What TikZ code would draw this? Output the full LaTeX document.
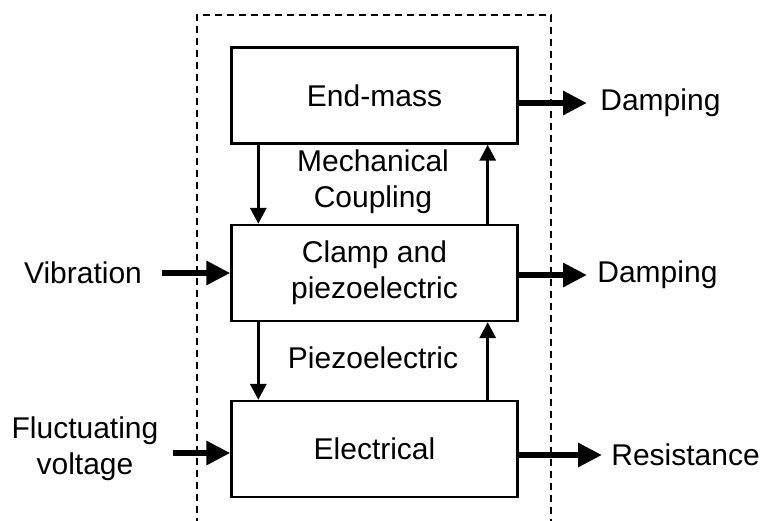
\documentclass[tikz,border=0pt]{standalone}
\usepackage{fontspec}
\setmainfont{Liberation Sans}
\usetikzlibrary{arrows.meta}
\begin{document}
\begin{tikzpicture}[x=0.5pt,y=-0.5pt,
  blk/.style={draw,line width=1.2pt,minimum width=143pt,minimum height=48pt,inner sep=0pt,align=center,font=\fontsize{15}{18}\selectfont},
  lbl/.style={inner sep=0pt,align=center,font=\fontsize{15}{18}\selectfont},
  thin/.style={line width=1.6pt,-{Triangle[length=8pt,width=8pt]}},
  thick/.style={line width=3pt,-{Triangle[length=12pt,width=11.5pt]}},
  frame/.style={line width=0.7pt,dash pattern=on 3.5pt off 2.5pt}]
\useasboundingbox (0,0) rectangle (760,520);
\coordinate (f1) at (197,525);
\coordinate (f2) at (197,15);
\coordinate (f3) at (551,15);
\coordinate (f4) at (551,525);
\draw[frame] (f1) -- (f2) -- (f3) -- (f4);
\node[blk] (em) at (374.5,95.5) {End-mass};
\node[blk] (cp) at (374.5,273) {Clamp and\\piezoelectric};
\node[blk] (el) at (374.5,449) {Electrical};
\node[lbl] (mc) at (373,182) {Mechanical\\Coupling};
\node[lbl] (pz) at (373,358) {Piezoelectric};
\draw[thin] ([xshift=14pt]em.south west) -- ([xshift=14pt]cp.north west);
\draw[thin] ([xshift=-15.5pt]cp.north east) -- ([xshift=-15.5pt]em.south east);
\draw[thin] ([xshift=14pt]cp.south west) -- ([xshift=14pt]el.north west);
\draw[thin] ([xshift=-15.5pt]el.north east) -- ([xshift=-15.5pt]cp.south east);
\node[lbl] (vib) at (83,273) {Vibration};
\node[lbl] (fv) at (85,449) {Fluctuating\\voltage};
\coordinate (vs) at (162,273);
\coordinate (fs) at (173,453);
\draw[thick] (vs) -- (cp.west);
\draw[thick] (fs) -- (fs -| el.west);
\node[lbl,anchor=west] (d1) at (600,103) {Damping};
\node[lbl,anchor=west] (d2) at (597,275) {Damping};
\node[lbl,anchor=west] (rs) at (611,455) {Resistance};
\coordinate (e1) at (587,103);
\coordinate (e2) at (587,275);
\coordinate (e3) at (602,455);
\draw[thick] (e1 -| em.east) -- (e1);
\draw[thick] (e2 -| cp.east) -- (e2);
\draw[thick] (e3 -| el.east) -- (e3);
\end{tikzpicture}
\end{document}
